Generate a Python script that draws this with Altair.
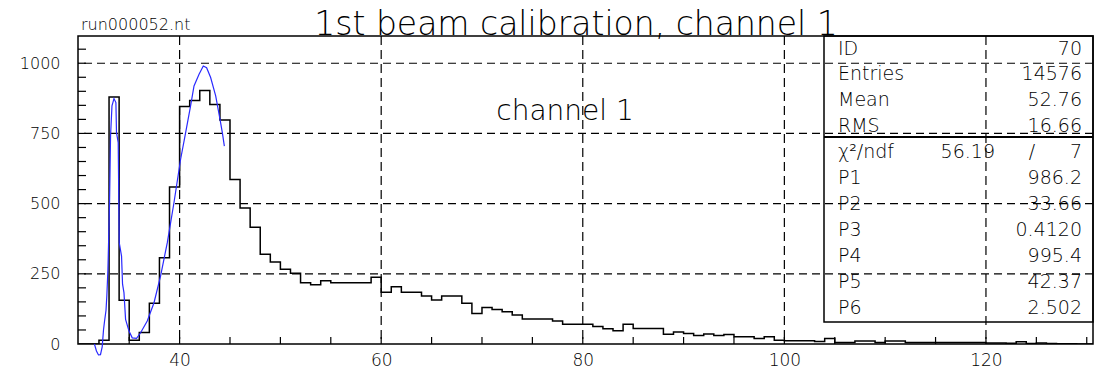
import altair as alt
import pandas as pd

# ---- histogram contents: one count per unit bin starting at 30 ----
bin_lo = list(range(30, 131))
counts = [
    0, 0, 13, 880, 156, 13, 41, 145, 307, 559,          # 30-39
    846, 867, 903, 853, 798, 586, 484, 416, 320, 292,   # 40-49
    266, 252, 218, 211, 225, 218, 218, 218, 218, 238,   # 50-59
    184, 204, 184, 184, 171, 157, 171, 171, 145, 109,   # 60-69
    130, 123, 115, 103, 89, 89, 89, 82, 70, 70,         # 70-79
    70, 62, 54, 47, 70, 55, 55, 55, 35, 43,             # 80-89
    37, 30, 36, 30, 34, 26, 26, 20, 26, 13,             # 90-99
    12, 12, 12, 9, 20, 5, 5, 11, 11, 5,                 # 100-109
    11, 11, 5, 5, 5, 5, 5, 5, 5, 5,                     # 110-119
    4, 4, 3, 8, 2, 4, 2, 1, 1, 0,                       # 120-129
    0,                                                  # 130
]

# ---- fitted double-peak curve (sampled polyline) ----
fit_x = [31.55, 31.75, 31.95, 32.15, 32.32, 32.45, 32.55, 32.7, 32.78, 32.89,
         33.05, 33.15, 33.29, 33.49, 33.68, 33.74, 33.91, 34.01, 34.24, 34.34,
         34.48, 34.64, 34.98, 35.3, 35.73, 36.13, 36.79, 37.46, 38.11, 38.78,
         39.44, 40.1, 40.6, 41.09, 41.43, 41.93, 42.35, 42.68, 43.08, 43.58,
         44.01, 44.24, 44.44]
fit_y = [0, -25, -39, -38, -10, 50, 80, 120, 171, 266,
         503, 741, 848, 874, 860, 753, 717, 361, 313, 213,
         183, 88, 46, 22, 20, 40, 82, 147, 242, 361,
         503, 658, 753, 848, 919, 961, 990, 984, 949, 884,
         800, 753, 705]

# ---- axes, grid and ticks ----
x_labels = [40, 60, 80, 100, 120]
y_labels = [0, 250, 500, 750, 1000]
x_grid = [40, 60, 80, 100, 120]
y_grid = [250, 500, 750, 1000]
x_minor = list(range(35, 131, 5))
y_minor = list(range(50, 1051, 50))

# ---- statistics box ----
stat_names = ["ID", "Entries", "Mean", "RMS", "χ²/ndf",
              "P1", "P2", "P3", "P4", "P5", "P6"]
stat_values = ["70", "14576", "52.76", "16.66", "7",
               "986.2", "33.66", "0.4120", "995.4", "42.37", "2.502"]
chi2_value = "56.19"

title_text = "1st beam calibration, channel 1"
file_text = "run000052.nt"
hist_text = "channel 1"

W, H = 1015, 308
XDOM = [29.92, 130.62]
YDOM = [0, 1097]
FONT = "DejaVu Sans"
INK = "#000000"

xs = alt.Scale(domain=XDOM, nice=False, zero=False)
ys = alt.Scale(domain=YDOM, nice=False, zero=False)

hist_df = pd.DataFrame({"x": bin_lo + [bin_lo[-1] + 1],
                        "n": counts + [0]})
fit_df = pd.DataFrame({"x": fit_x, "y": fit_y})
one = pd.DataFrame({"a": [0]})

x_axis = alt.Axis(values=x_labels, ticks=False, domain=False, grid=False,
                  format="d", labelFont=FONT, labelFontSize=17, labelColor=INK,
                  labelPadding=8, title=None, labelFontWeight=200)
y_axis = alt.Axis(values=y_labels, ticks=False, domain=False, grid=False,
                  format="d", labelFont=FONT, labelFontSize=16, labelColor=INK,
                  labelPadding=18, title=None, labelFontWeight=200)

# histogram outline (carries the shared axes)
hist = alt.Chart(hist_df).mark_line(
    interpolate="step-after", color=INK, strokeWidth=1.5, clip=True
).encode(x=alt.X("x:Q", scale=xs, axis=x_axis),
         y=alt.Y("n:Q", scale=ys, axis=y_axis))

# dashed grid
vgrid = alt.Chart(pd.DataFrame({"g": x_grid})).mark_rule(
    color=INK, strokeWidth=1.2, strokeDash=[9, 5]
).encode(x=alt.X("g:Q", scale=xs, axis=x_axis))
hgrid = alt.Chart(pd.DataFrame({"g": y_grid})).mark_rule(
    color=INK, strokeWidth=1.2, strokeDash=[8, 5]
).encode(y=alt.Y("g:Q", scale=ys, axis=y_axis))

# inward ticks
xt = alt.Chart(pd.DataFrame({"t": x_minor})).mark_rule(
    color=INK, strokeWidth=1.2
).encode(x=alt.X("t:Q", scale=xs, axis=x_axis),
         y=alt.value(H), y2=alt.value(H - 7))
yt = alt.Chart(pd.DataFrame({"t": y_minor})).mark_rule(
    color=INK, strokeWidth=1.2
).encode(y=alt.Y("t:Q", scale=ys, axis=y_axis),
         x=alt.value(0), x2=alt.value(8))

fit = alt.Chart(fit_df).mark_line(
    color="#2a2aff", strokeWidth=1.2
).encode(x=alt.X("x:Q", scale=xs, axis=x_axis),
         y=alt.Y("y:Q", scale=ys, axis=y_axis))

# statistics box frame and separator
box = alt.Chart(one).mark_rect(
    filled=False, stroke=INK, strokeWidth=1.5
).encode(x=alt.value(746), x2=alt.value(W), y=alt.value(0), y2=alt.value(286))
sep = alt.Chart(one).mark_rule(color=INK, strokeWidth=2.2).encode(
    x=alt.value(746), x2=alt.value(W), y=alt.value(101))

txt = dict(font=FONT, color=INK, fontWeight=200, baseline="middle")
layers = [hist, vgrid, hgrid, xt, yt, fit, box, sep]

ROW0, ROWH = 12.5, 25.9
for i, (name, val) in enumerate(zip(stat_names, stat_values)):
    yy = ROW0 + i * ROWH
    layers.append(alt.Chart(one).mark_text(align="left", fontSize=19, **txt)
                  .encode(x=alt.value(760), y=alt.value(yy), text=alt.value(name)))
    layers.append(alt.Chart(one).mark_text(align="right", fontSize=19, **txt)
                  .encode(x=alt.value(1004), y=alt.value(yy), text=alt.value(val)))
    if name.startswith("χ"):
        layers.append(alt.Chart(one).mark_text(align="right", fontSize=19, **txt)
                      .encode(x=alt.value(917), y=alt.value(yy), text=alt.value(chi2_value)))
        layers.append(alt.Chart(one).mark_text(align="center", fontSize=19, **txt)
                      .encode(x=alt.value(954), y=alt.value(yy), text=alt.value("/")))

title = alt.Chart(one).mark_text(
    align="center", baseline="alphabetic", fontSize=33, font=FONT, color=INK, fontWeight=200
).encode(x=alt.value(498), y=alt.value(-1), text=alt.value(title_text))
fname = alt.Chart(one).mark_text(
    align="left", baseline="alphabetic", fontSize=16, font=FONT, color=INK, fontWeight=200
).encode(x=alt.value(3), y=alt.value(-6), text=alt.value(file_text))
hname = alt.Chart(one).mark_text(
    align="center", baseline="alphabetic", fontSize=28, font=FONT, color=INK, fontWeight=200
).encode(x=alt.value(487), y=alt.value(84), text=alt.value(hist_text))
layers += [title, fname, hname]

chart = alt.layer(*layers).properties(
    width=W, height=H,
    autosize=alt.AutoSizeParams(type="none"),
    padding={"left": 78, "top": 36, "right": 1, "bottom": 27},
    background="white",
).configure_view(stroke=INK, strokeWidth=1.5)

chart.save("out.html", embed_options={"renderer": "svg", "actions": False})
